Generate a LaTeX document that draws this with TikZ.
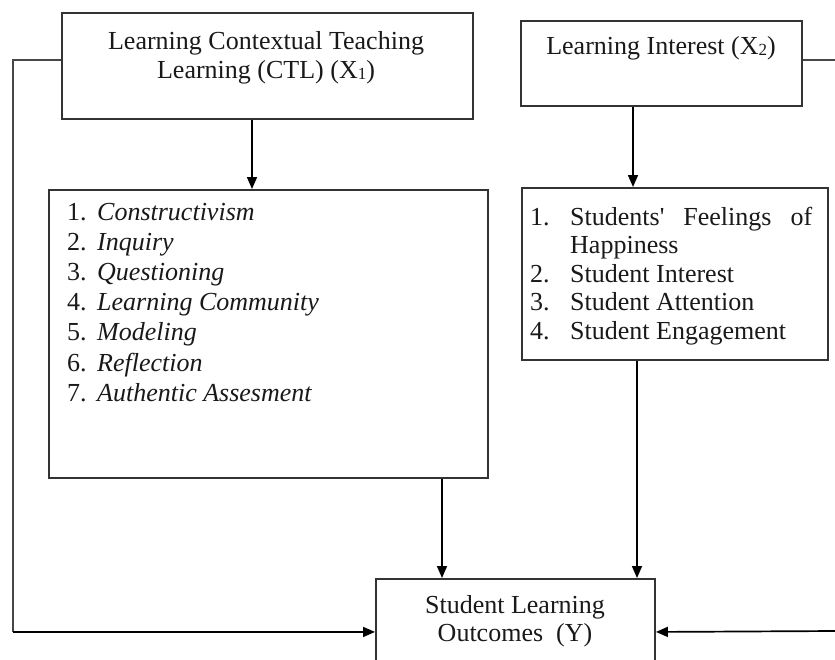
\documentclass[tikz,border=0pt]{standalone}
\usepackage{fontspec}
\setmainfont{Liberation Serif}
\usetikzlibrary{arrows.meta,calc}
\newcommand\subdig[1]{\raisebox{-1pt}{\fontsize{17}{17}\selectfont #1}}
\begin{document}
\begin{tikzpicture}[x=1pt,y=-1pt,
  box/.style={draw=black!80, line width=1.9pt, inner sep=0pt, anchor=north west},
  txt/.style={inner sep=0pt, text=black!90},
  tip/.style={-{Triangle[length=12pt,width=10pt]}},
  arr/.style={draw=black, line width=1.7pt, tip},
  side/.style={draw=black!72, line width=1.9pt}]
\useasboundingbox (0,0) rectangle (835,659);
\clip (0,0) rectangle (835,659);
% boxes
\node[box, minimum width=411, minimum height=106] (ctl) at (61,12) {};
\node[box, minimum width=281, minimum height=85] (int) at (520,20) {};
\node[box, minimum width=439, minimum height=288] (list1) at (48,189) {};
\node[box, minimum width=306, minimum height=172] (list2) at (521,187) {};
\node[box, minimum width=279, minimum height=106] (yb) at (375,578) {};
% texts
\node[txt, anchor=base] (ctlt) at (266,49) {\fontsize{26}{29}\selectfont
  \begin{tabular}[t]{@{}c@{}}Learning Contextual Teaching\\ Learning (CTL) (X\subdig{1})\end{tabular}};
\node[txt, anchor=base] (intt) at (661,54) {\fontsize{26}{29}\selectfont Learning Interest (X\subdig{2})};
\node[txt, anchor=base west] (l1t) at (67,220) {\fontsize{26}{30.2}\selectfont
  \begin{tabular}[t]{@{}l@{}}
  \makebox[30pt][l]{1.}\textit{Constructivism}\\
  \makebox[30pt][l]{2.}\textit{Inquiry}\\
  \makebox[30pt][l]{3.}\textit{Questioning}\\
  \makebox[30pt][l]{4.}\textit{Learning Community}\\
  \makebox[30pt][l]{5.}\textit{Modeling}\\
  \makebox[30pt][l]{6.}\textit{Reflection}\\
  \makebox[30pt][l]{7.}\textit{Authentic Assesment}
  \end{tabular}};
\node[txt, anchor=base west] (l2t) at (530,225) {\fontsize{26}{28.5}\selectfont
  \begin{tabular}[t]{@{}l@{}}
  \makebox[40pt][l]{1.}\makebox[242pt][s]{Students\textquotesingle{} Feelings of}\\
  \makebox[40pt][l]{}Happiness\\
  \makebox[40pt][l]{2.}Student Interest\\
  \makebox[40pt][l]{3.}Student Attention\\
  \makebox[40pt][l]{4.}Student Engagement
  \end{tabular}};
\node[txt, anchor=base] (ybt) at (515,613) {\fontsize{26}{28}\selectfont
  \begin{tabular}[t]{@{}c@{}}Student Learning\\ Outcomes~~(Y)\end{tabular}};
% connectors
\coordinate (lstub) at (13,60);
\coordinate (rstub) at (835,60);
\coordinate (rlow) at (835,631);
\draw[side] (ctl.west |- lstub) -- (lstub) -- (lstub |- yb.west);
\draw[arr] (lstub |- yb.west) -- (yb.west);
\draw[side] (int.east |- rstub) -- (rstub);
\draw[arr] (rlow) -- (yb.east);
\coordinate (a1) at (252,0);
\coordinate (a2) at (442,0);
\coordinate (a3) at (633,0);
\coordinate (a4) at (637,0);
\draw[arr] (ctl.south -| a1) -- (list1.north -| a1);
\draw[arr] (list1.south -| a2) -- (yb.north -| a2);
\draw[arr] (int.south -| a3) -- (list2.north -| a3);
\draw[arr] (list2.south -| a4) -- (yb.north -| a4);
\end{tikzpicture}
\end{document}
